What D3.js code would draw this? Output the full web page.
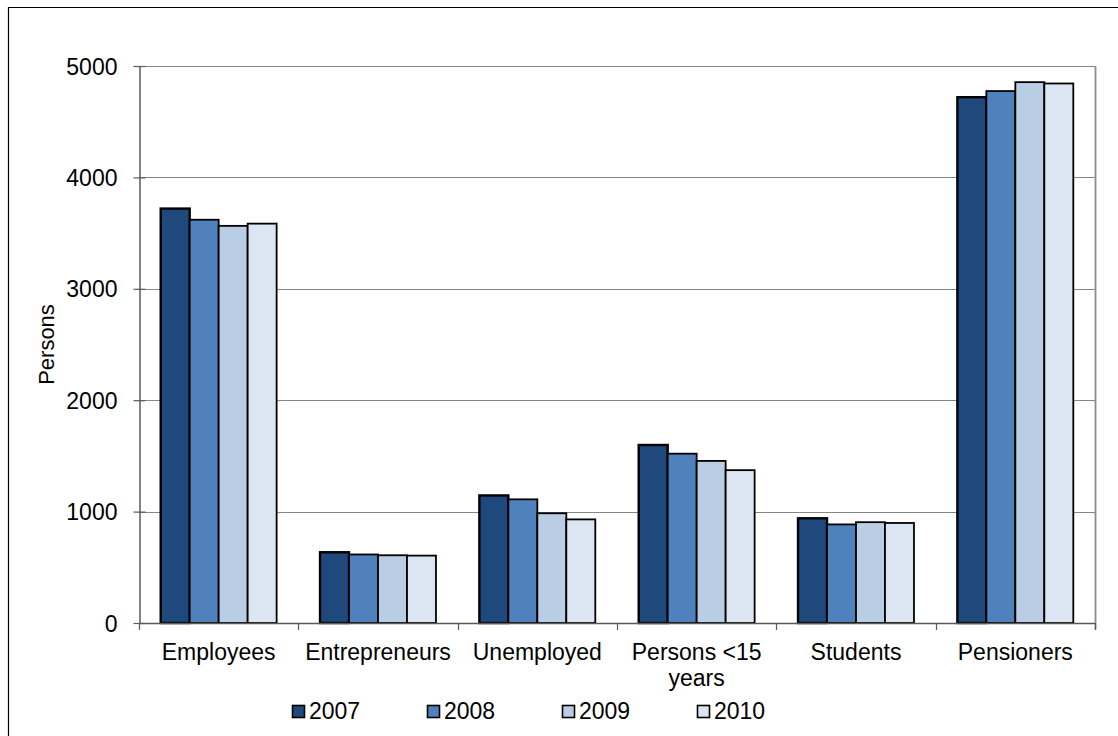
<!DOCTYPE html>
<html>
<head>
<meta charset="utf-8">
<script src="https://cdnjs.cloudflare.com/ajax/libs/d3/7.8.5/d3.min.js"></script>
<style>
  html, body { margin: 0; padding: 0; background: #fff; }
  svg { display: block; }
  svg text { font-family: Arial, "Liberation Sans", sans-serif; }
</style>
</head>
<body>
<svg id="chart" width="1118" height="736"></svg>
<script>
// Persons by economic status, 2007–2010
const categories = ["Employees", "Entrepreneurs", "Unemployed", "Persons <15 years", "Students", "Pensioners"];
const years = ["2007", "2008", "2009", "2010"];
const values2007 = [3720, 635, 1145, 1598, 940, 4720];
const values2008 = [3620, 615, 1110, 1520, 885, 4775];
const values2009 = [3565, 608, 985, 1455, 905, 4855];
const values2010 = [3585, 605, 930, 1372, 898, 4843];
const yTicks = [0, 1000, 2000, 3000, 4000, 5000];
const colors = ["#1F497D", "#4F81BD", "#B9CDE5", "#DCE6F2"];

const series = [values2007, values2008, values2009, values2010];
const FONT = "Arial, 'Liberation Sans', sans-serif";

const svg = d3.select("#chart");
const margin = { left: 139, right: 1095, top: 66, bottom: 623 };

// Outer chart frame (top and left edges fall inside the view)
svg.append("path")
  .attr("d", "M8.5,740 V7.5 H1120")
  .attr("fill", "none").attr("stroke", "#000").attr("stroke-width", 1.2);

const x0 = d3.scaleBand().domain(categories).range([margin.left, margin.right]).paddingInner(0).paddingOuter(0);
const groupPad = 21.7;
const x1 = d3.scaleBand().domain(years).range([groupPad, x0.bandwidth() - groupPad]).padding(0);
const y = d3.scaleLinear().domain([0, 5000]).range([margin.bottom, margin.top]);

// Gridlines
svg.append("g")
  .selectAll("line")
  .data(yTicks.filter(d => d > 0))
  .join("line")
  .attr("x1", margin.left).attr("x2", margin.right)
  .attr("y1", d => Math.round(y(d)) + 0.5).attr("y2", d => Math.round(y(d)) + 0.5)
  .attr("stroke", "#868686").attr("stroke-width", 1.2);

// Right edge of plot area
svg.append("line")
  .attr("x1", margin.right + 0.5).attr("x2", margin.right + 0.5)
  .attr("y1", margin.top).attr("y2", margin.bottom + 6)
  .attr("stroke", "#8c8c8c").attr("stroke-width", 1.8);

// Bars
const groups = svg.append("g").selectAll("g")
  .data(categories)
  .join("g")
  .attr("transform", d => `translate(${x0(d)},0)`);

groups.selectAll("rect")
  .data((d, i) => years.map((yr, j) => ({ yr, v: series[j][i], j })))
  .join("rect")
  .attr("x", d => x1(d.yr))
  .attr("y", d => y(d.v))
  .attr("width", x1.bandwidth())
  .attr("height", d => y(0) - y(d.v))
  .attr("fill", d => colors[d.j])
  .attr("stroke", "#000")
  .attr("stroke-width", d => d.j === 0 ? 2.4 : 1.8);

// Y axis
const yAxis = svg.append("g")
  .attr("transform", `translate(${margin.left + 0.5},0)`)
  .call(d3.axisLeft(y).tickValues(yTicks).tickFormat(d3.format("d"))
    .tickSize(6).tickSizeOuter(0).tickPadding(16));
yAxis.attr("font-family", FONT);
yAxis.select(".domain").attr("stroke", "#5a5a5a").attr("stroke-width", 1.5);
yAxis.selectAll(".tick line").attr("x1", 6).attr("stroke", "#5a5a5a").attr("stroke-width", 1.2);
yAxis.selectAll(".tick text").attr("font-size", 23).attr("fill", "#000").attr("dy", "0.35em");

// X axis with tick marks between categories
const xAxisG = svg.append("g");
xAxisG.append("line")
  .attr("x1", margin.left).attr("x2", margin.right)
  .attr("y1", margin.bottom + 0.5).attr("y2", margin.bottom + 0.5)
  .attr("stroke", "#5a5a5a").attr("stroke-width", 1.5);
const boundaries = categories.map(c => x0(c)).concat([x0.range()[1]]);
xAxisG.selectAll("line.tick")
  .data(boundaries)
  .join("line")
  .attr("class", "tick")
  .attr("x1", d => Math.round(d) + 0.5).attr("x2", d => Math.round(d) + 0.5)
  .attr("y1", margin.bottom).attr("y2", margin.bottom + 7)
  .attr("stroke", "#5a5a5a").attr("stroke-width", 1.2);

// Category labels (wrapped where needed)
const labelLines = { "Persons <15 years": ["Persons <15", "years"] };
xAxisG.selectAll("text.cat")
  .data(categories)
  .join("text")
  .attr("class", "cat")
  .attr("x", d => x0(d) + x0.bandwidth() / 2)
  .attr("y", 660)
  .attr("text-anchor", "middle")
  .attr("font-size", 23)
  .attr("font-family", FONT)
  .attr("fill", "#000")
  .each(function (d) {
    const lines = labelLines[d] || [d];
    d3.select(this).selectAll("tspan")
      .data(lines)
      .join("tspan")
      .attr("x", x0(d) + x0.bandwidth() / 2)
      .attr("dy", (l, i) => i === 0 ? 0 : 26)
      .text(l => l);
  });

// Y axis title
svg.append("text")
  .attr("transform", `translate(54,${(margin.top + margin.bottom) / 2}) rotate(-90)`)
  .attr("text-anchor", "middle")
  .attr("font-size", 22)
  .attr("font-family", FONT)
  .attr("fill", "#000")
  .text("Persons");

// Legend
const legend = svg.append("g").selectAll("g")
  .data(years)
  .join("g")
  .attr("transform", (d, i) => `translate(${292 + i * 135},705)`);
legend.append("rect")
  .attr("x", 0.5).attr("y", 0.5)
  .attr("width", 12).attr("height", 12)
  .attr("fill", (d, i) => colors[i])
  .attr("stroke", "#000").attr("stroke-width", 1.6);
legend.append("text")
  .attr("x", 17).attr("y", 14)
  .attr("font-size", 23)
  .attr("font-family", FONT)
  .attr("fill", "#000")
  .text(d => d);
</script>
</body>
</html>
